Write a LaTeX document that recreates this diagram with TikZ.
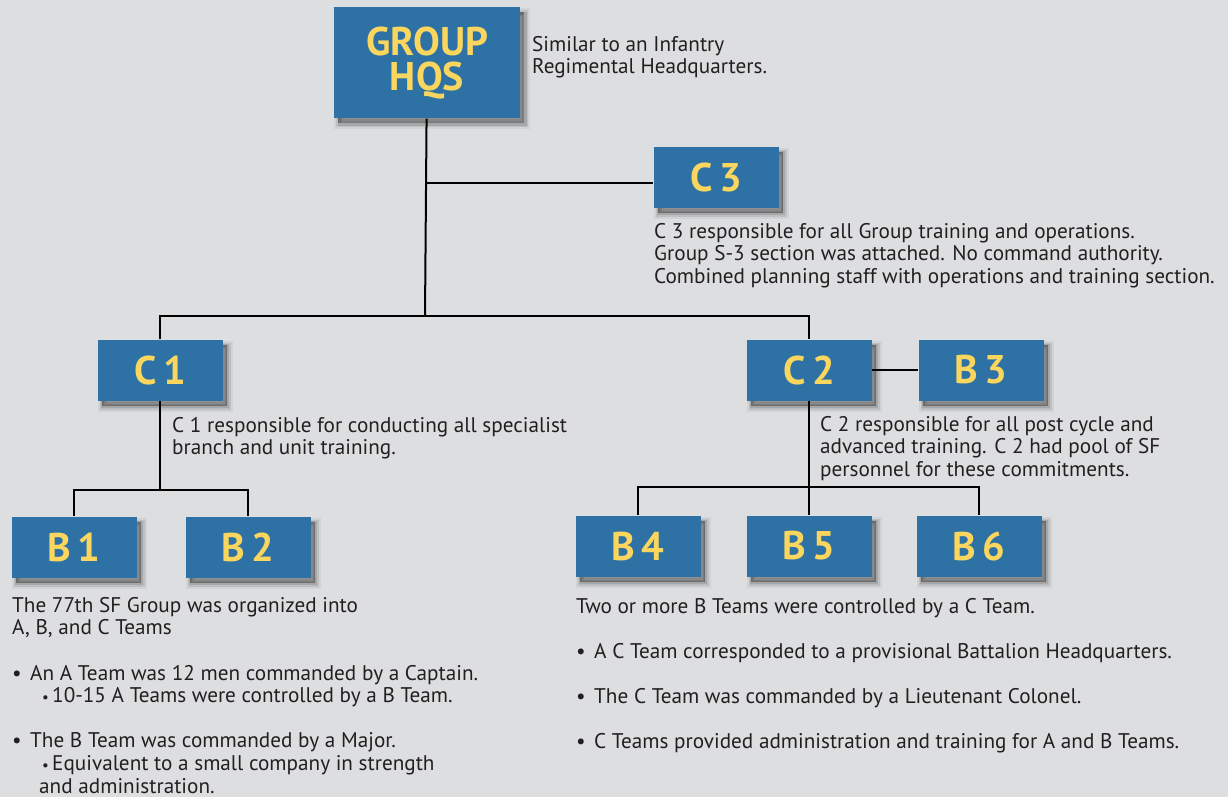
\documentclass[tikz,border=0pt]{standalone}
\usepackage{fontspec}
\setmainfont{PT Sans}

\definecolor{bgcol}{HTML}{DDDEE0}
\definecolor{boxcol}{HTML}{2E72A5}
\definecolor{labcol}{HTML}{FAD65E}
\definecolor{inkcol}{HTML}{231F20}

\tikzset{
  boxshade/.style={
    preaction={draw=black, draw opacity=0.05, line width=10pt, transform canvas={shift={(5pt,-6pt)}}},
    preaction={draw=black, draw opacity=0.09, line width=6pt, transform canvas={shift={(5pt,-6pt)}}},
    preaction={draw=black, draw opacity=0.12, line width=3pt, transform canvas={shift={(5pt,-6pt)}}},
    preaction={fill=black, fill opacity=0.35, transform canvas={shift={(4pt,-5pt)}}}},
  unit/.style={fill=boxcol, text=labcol, inner sep=0pt, minimum width=125pt, minimum height=61pt,
    font=\fontsize{40}{35}\selectfont\bfseries, align=center, boxshade},
  note/.style={text=inkcol, inner sep=0pt, anchor=north west, align=left,
    font=\fontsize{21.2}{22.6}\selectfont},
  link/.style={draw=black, line width=2pt}
}

\newcommand{\mainbul}{\makebox[18pt][l]{•}}
\newcommand{\subbul}{\hspace*{30pt}\makebox[10pt][l]{\fontsize{15}{15}\selectfont•}}

\begin{document}
\begin{tikzpicture}[x=1pt, y=-1pt]
            \fill[bgcol] (0,0) rectangle (1228,797);
            \useasboundingbox (0,0) rectangle (1228,797);

            % Group headquarters
            \node[unit, minimum width=186pt, minimum height=111pt] (hqs) at (427,63) {GROUP\\HQS};
            \node[note] (hqsnote) at (532,36) {Similar to an Infantry\\Regimental Headquarters.};

            % C 3 staff team
            \node[unit] (c3) at (716,177) {C\,3};
            \coordinate (j3) at (425,183);
            \node[note] (c3note) at (654,223) {C 3 responsible for all Group training and operations.\\Group S-3 section was attached. No command authority.\\Combined planning staff with operations and training section.};

            % Second stage nodes
            \coordinate (jc) at (425,316);
            \node[unit] (c1) at (160,370) {C\,1};
            \node[unit] (c2) at (809,370) {C\,2};
            \node[unit] (b3) at (981,370) {B\,3};
            \node[note] (c1note) at (172,417) {C 1 responsible for conducting all specialist\\branch and unit training.};
            \node[note] (c2note) at (820,416) {C 2 responsible for all post cycle and\\advanced training. C 2 had pool of SF\\personnel for these commitments.};

            % Third stage nodes
            \coordinate (jb1) at (160,490);
            \coordinate (jb2) at (809,487);
            \node[unit] (b1) at (74,547) {B\,1};
            \node[unit] (b2) at (248,547) {B\,2};
            \node[unit] (b4) at (638,546) {B\,4};
            \node[unit] (b5) at (809,546) {B\,5};
            \node[unit] (b6) at (979,546) {B\,6};

            % Connectors
            \draw[link] (hqs) -- (jc);
            \draw[link] (j3) -- (j3 -| c3.west);
            \draw[link] (c1.north) |- (jc) -| (c2.north);
            \draw[link] (c2) -- (b3);
            \draw[link] (c1) -- (jb1);
            \draw[link] (b1.north) |- (jb1) -| (b2.north);
            \draw[link] (c2) -- (b5);
            \draw[link] (b4.north) |- (jb2) -| (b6.north);

            % Team notes
            \node[note] (leftnote) at (12,597) {The 77th SF Group was organized into\\A, B, and C Teams\\[22.6pt]
              \mainbul An A Team was 12 men commanded by a Captain.\\
              \subbul 10-15 A Teams were controlled by a B Team.\\[22.6pt]
              \mainbul The B Team was commanded by a Major.\\
              \subbul Equivalent to a small company in strength\\
              \hspace*{27pt}and administration.};
            \node[note] (rightnote) at (576,598) {Two or more B Teams were controlled by a C Team.\\[22.6pt]
              \mainbul A C Team corresponded to a provisional Battalion Headquarters.\\[22.6pt]
              \mainbul The C Team was commanded by a Lieutenant Colonel.\\[22.6pt]
              \mainbul C Teams provided administration and training for A and B Teams.};
        \end{tikzpicture}
\end{document}
